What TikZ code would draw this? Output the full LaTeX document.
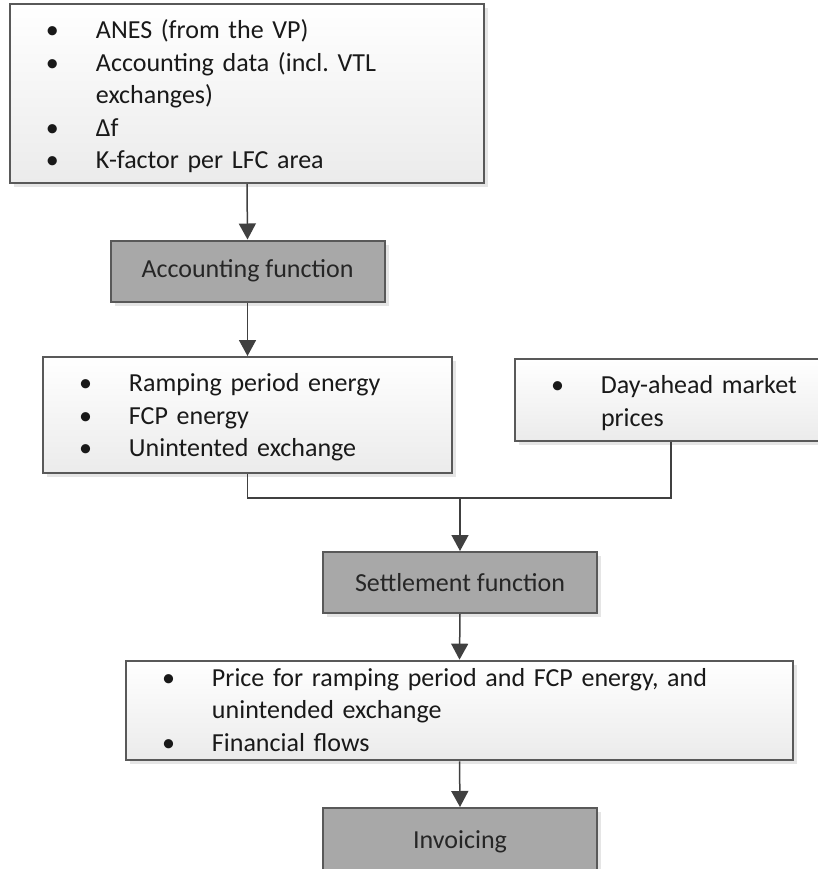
\documentclass[tikz,border=0pt]{standalone}
\usepackage{fontspec}
\setmainfont{Carlito}
\usetikzlibrary{arrows.meta,positioning,shadows}
\definecolor{cline}{HTML}{595959}
\definecolor{carrow}{HTML}{404040}
\definecolor{cfun}{HTML}{A8A8A8}
\definecolor{clist}{HTML}{EBEBEB}
\frenchspacing
\newcommand{\bul}[1]{\par\noindent\hangindent=43pt\hangafter=1\makebox[43pt][l]{\hspace{18pt}\textbullet}#1\par}

\begin{document}
\begin{tikzpicture}[x=0.5pt, y=-0.5pt, >={Triangle[width=8.5pt,length=8pt]}, font=\fontsize{13}{16.25}\selectfont]
\tikzset{
  listbox/.style={draw=cline, line width=1pt, top color=white, bottom color=clist, inner xsep=0pt, inner ysep=1pt, align=left, text=black!90,
    drop shadow={shadow xshift=2pt, shadow yshift=-2pt, fill=black!10, opacity=1}},
  lift/.style={execute at end node={\par\vspace{#1}}},
  funbox/.style={draw=cline, line width=1pt, fill=cfun, text=black!85, minimum width=137pt, minimum height=30.5pt,
    drop shadow={shadow xshift=2pt, shadow yshift=-2pt, fill=black!10, opacity=1}},
  conn/.style={->, draw=carrow, line width=0.75pt},
}
\useasboundingbox (0,0) rectangle (818,869);
% inputs and functions
\node[listbox, lift=4pt, text width=237pt, minimum height=87.5pt] (src) at (247,93.5)
  {\bul{ANES (from the VP)}\bul{Accounting data (incl. VTL\newline exchanges)}\bul{Δf}\bul{K-factor per LFC area}};
\node[funbox] (acc) at (247.5,271) {Accounting function};
\node[listbox, lift=5pt, text width=204.5pt, minimum height=53pt] (res) at (247.5,415)
  {\bul{Ramping period energy}\bul{FCP energy}\bul{Unintented exchange}};
\node[listbox, lift=4pt, text width=156pt, minimum height=38pt] (dap) at (671,400)
  {\bul{Day-ahead market\newline prices}};
\node[funbox] (set) at (460,582.5) {Settlement function};
\node[listbox, lift=8pt, inner ysep=-3.5pt, text width=333.5pt, minimum height=46.5pt] (prc) at (459.5,710.5)
  {\bul{Price for ramping period and FCP energy, and\newline unintended exchange}\bul{Financial flows}};
\node[funbox, minimum height=34pt] (inv) at (460,842) {Invoicing};
\coordinate (jn) at (460,498);
% connectors
\draw[conn] (src.south) -- (acc.north);
\draw[conn] (acc.south) -- (res.north);
\draw[carrow, line width=0.75pt] (res.south) |- (jn);
\draw[carrow, line width=0.75pt] (dap.south) |- (jn);
\draw[conn] (jn) -- (set.north);
\draw[conn] (set.south) -- (prc.north);
\draw[conn] (prc.south) -- (inv.north);
\end{tikzpicture}
\end{document}
